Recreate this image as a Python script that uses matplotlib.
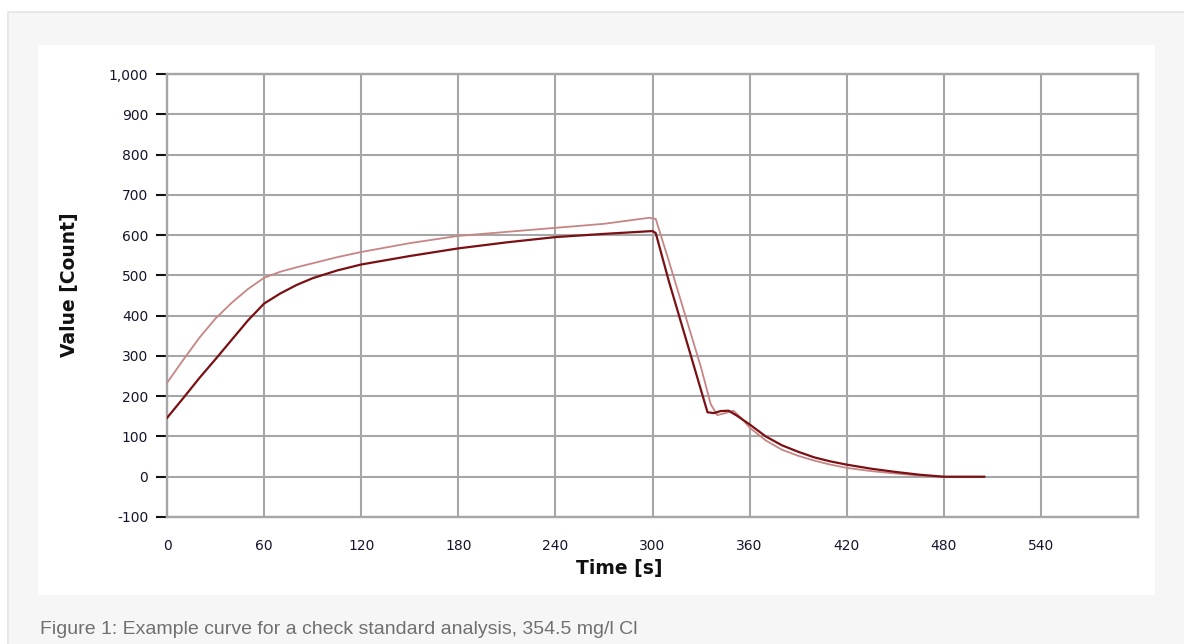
"""Example curve for a check standard analysis -> out.png"""

import matplotlib.pyplot as plt
from matplotlib.patches import Rectangle
from matplotlib.ticker import FuncFormatter

# dark curve (measured)
T_DARK = [0, 10, 20, 30, 40, 50, 60, 70, 80, 90, 105, 120, 150, 180, 210, 240,
          270, 300, 302, 310, 320, 328, 334, 338, 342, 347, 352, 360, 370, 380,
          390, 400, 410, 420, 435, 450, 465, 480, 495, 505]
V_DARK = [146, 195, 245, 292, 340, 388, 430, 455, 476, 493, 512, 527, 548, 567,
          582, 595, 603, 610, 605, 487, 351, 242, 160, 158, 163, 164, 152, 130,
          100, 78, 62, 48, 38, 30, 20, 12, 5, 0, 0, 0]

# light curve (reference)
T_LIGHT = [0, 10, 20, 30, 40, 50, 60, 70, 80, 90, 105, 120, 150, 180, 210, 240,
           270, 298, 302, 310, 320, 330, 336, 340, 345, 350, 355, 360, 370, 380,
           390, 400, 410, 420, 435, 450, 465, 480]
V_LIGHT = [233, 290, 345, 393, 432, 466, 494, 509, 520, 530, 545, 558, 580, 598,
           608, 618, 628, 643, 640, 537, 404, 271, 180, 153, 158, 164, 145, 122,
           90, 67, 52, 40, 30, 22, 14, 8, 3, 0]

X_TICKS = list(range(0, 541, 60))
Y_TICKS = list(range(-100, 1001, 100))

CAPTION = "Figure 1: Example curve for a check standard analysis, 354.5 mg/l Cl"

W, H = 1184, 644
fig = plt.figure(figsize=(W / 100, H / 100), dpi=100)
fig.patch.set_facecolor("white")


def px_rect(x0, y0, x1, y1, **kw):
    # rectangle given in pixel coords (origin top-left)
    return Rectangle((x0 / W, 1 - y1 / H), (x1 - x0) / W, (y1 - y0) / H,
                     transform=fig.transFigure, **kw)


fig.patches.append(px_rect(8, 12, W + 5, H + 5, facecolor="#f6f6f6",
                           edgecolor="#e4e4e4", linewidth=1.2, zorder=-20))
fig.patches.append(px_rect(38, 45, 1155, 595, facecolor="white",
                           edgecolor="none", zorder=-10))

ax = fig.add_axes([167 / W, 1 - 517 / H, (1138 - 167) / W, (517 - 74) / H])
ax.set_facecolor("white")

ax.plot(T_LIGHT, V_LIGHT, color="#c78585", lw=1.3, zorder=3)
ax.plot(T_DARK, V_DARK, color="#7a1014", lw=1.6, zorder=4)

ax.set_xlim(0, 600)
ax.set_ylim(-100, 1000)
ax.set_xticks(X_TICKS)
ax.set_yticks(Y_TICKS)
ax.yaxis.set_major_formatter(FuncFormatter(lambda v, _: f"{int(v):,}"))

ax.grid(True, color="#a6a6a6", lw=1.5)
ax.set_axisbelow(True)
for sp in ax.spines.values():
    sp.set_color("#a6a6a6")
    sp.set_linewidth(1.7)

ax.tick_params(axis="y", length=8, width=1.5, color="#111", pad=5.5,
               labelcolor="#14142e", labelsize=10)
ax.tick_params(axis="x", length=0, pad=16, labelcolor="#14142e", labelsize=10)

ax.set_xlabel("Time [s]", fontsize=13.5, fontweight="bold", color="#111")
ax.set_ylabel("Value [Count]", fontsize=13.5, fontweight="bold", color="#111")
ax.xaxis.set_label_coords(0.466, -0.095)
ax.yaxis.set_label_coords(-0.091, 0.525)

fig.text(40 / W, 1 - 629 / H, CAPTION, fontsize=14, color="#707070",
         va="center", ha="left", family=["Liberation Sans", "DejaVu Sans"])

fig.savefig("out.png", dpi=100)
